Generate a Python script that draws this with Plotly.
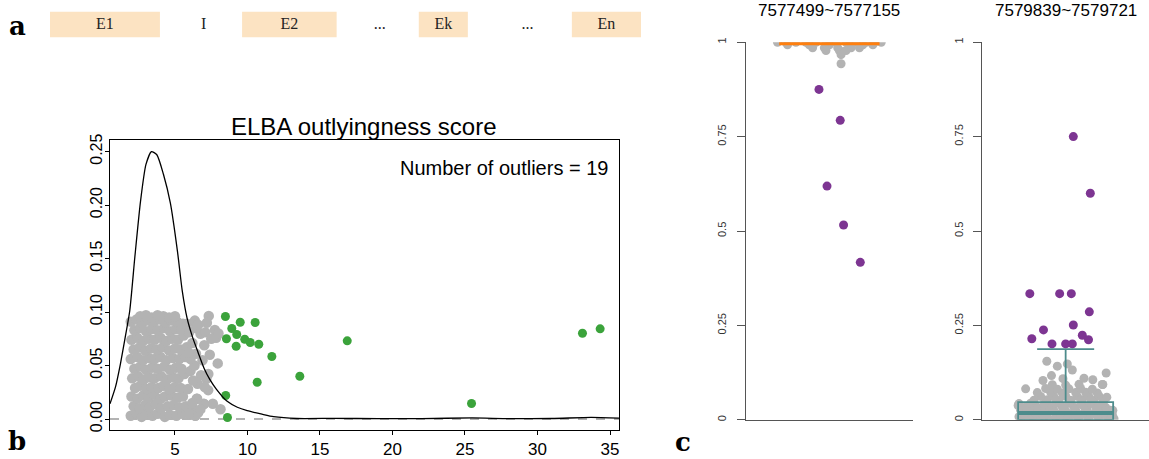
import plotly.graph_objects as go

W, H = 1149, 459

# ---------------- data ----------------
# panel a: gene structure (arbitrary coordinate units)
exon_labels = ["E1", "E2", "Ek", "En"]
exon_start = [0.0, 32.5, 62.4, 88.3]
exon_end = [18.6, 48.5, 70.7, 100.0]
gap_labels = ["I", "...", "..."]
gap_pos = [26.0, 55.8, 80.8]

# panel b: density curve of outlyingness score
dens_x = [0.52, 0.9, 1.24, 1.55, 1.88, 2.23, 2.62, 3.0, 3.38, 3.75, 4.2, 4.68, 5.17, 5.5,
          5.84, 6.2, 6.6, 6.99, 7.4, 7.85, 8.6, 9.3, 9.98, 11.0, 11.8, 13.4, 16.0, 19.0,
          22.0, 25.5, 28.0, 31.0, 33.7, 35.62]
dens_y = [0.0142, 0.030, 0.0516, 0.075, 0.101, 0.151, 0.203, 0.238, 0.250, 0.247, 0.229,
          0.202, 0.157, 0.120, 0.094, 0.077, 0.062, 0.048, 0.037, 0.028, 0.0165, 0.011,
          0.0078, 0.0045, 0.0022, 0.0005, 0.0006, 0.0004, 0.0004, 0.0010, 0.0004, 0.0005,
          0.0015, 0.0008]

# panel b: non-outlier scores (x) with vertical jitter (y)
gray_b_x = [
    1.95, 2.35, 2.7, 3.0, 3.45, 3.8, 4.3, 4.65, 5.1, 5.5, 6.05, 6.4, 6.6,
    2.15, 2.55, 2.95, 3.25, 3.65, 4.05, 4.5, 4.9, 5.3, 5.75, 6.3,
    2.0, 2.4, 2.8, 3.2, 3.55, 4.0, 4.3, 4.75, 5.2, 5.55, 6.5, 7.0,
    2.25, 2.6, 3.05, 3.4, 3.85, 4.2, 4.6, 5.0, 5.4, 5.9, 6.55,
    2.05, 2.45, 2.85, 3.2, 3.6, 4.05, 4.45, 4.85, 5.25, 5.65, 7.17, 7.3,
    2.2, 2.6, 3.0, 3.4, 3.8, 4.25, 4.65, 5.05, 5.45, 6.07, 6.35,
    1.95, 2.4, 2.8, 3.2, 3.6, 4.0, 4.4, 4.85, 5.3, 5.7, 6.07, 6.45, 7.95,
    2.15, 2.55, 2.95, 3.35, 3.75, 4.15, 4.6, 5.0, 5.4, 5.8, 6.2,
    2.0, 2.4, 2.8, 3.2, 3.6, 4.0, 4.4, 4.8, 5.2, 5.6, 7.02, 6.76,
    2.2, 2.6, 3.0, 3.4, 3.8, 4.25, 4.65, 5.05, 5.45, 5.98, 6.46, 7.10, 7.75, 7.84,
    1.95, 2.35, 2.75, 3.15, 3.55, 3.95, 4.35, 4.75, 5.15, 5.55, 5.84, 6.37, 7.33,
    2.6, 3.0, 3.4, 3.8, 4.2, 4.6, 5.0,
    7.61, 8.14, 6.99, 6.53, 7.29, 6.41, 6.8, 7.4,
    5.95, 6.2, 6.75, 7.05, 6.9, 7.5, 6.6, 7.2, 8.0, 6.25, 5.95,
]
gray_b_y = [
    0.003, 0.005, 0.002, 0.004, 0.003, 0.005, 0.002, 0.004, 0.003, 0.005, 0.004, 0.003, 0.006,
    0.012, 0.010, 0.013, 0.011, 0.014, 0.010, 0.012, 0.013, 0.011, 0.012, 0.009,
    0.021, 0.019, 0.022, 0.020, 0.023, 0.019, 0.021, 0.022, 0.020, 0.021, 0.019, 0.014,
    0.029, 0.031, 0.028, 0.030, 0.029, 0.031, 0.028, 0.030, 0.029, 0.028, 0.033,
    0.038, 0.040, 0.037, 0.039, 0.038, 0.040, 0.037, 0.039, 0.038, 0.042, 0.0376, 0.042,
    0.047, 0.049, 0.046, 0.048, 0.047, 0.049, 0.046, 0.048, 0.047, 0.045, 0.050,
    0.056, 0.058, 0.055, 0.057, 0.056, 0.058, 0.055, 0.057, 0.056, 0.058, 0.056, 0.061, 0.052,
    0.065, 0.067, 0.064, 0.066, 0.065, 0.067, 0.064, 0.066, 0.065, 0.067, 0.071,
    0.074, 0.076, 0.073, 0.075, 0.074, 0.076, 0.073, 0.075, 0.074, 0.078, 0.069, 0.0796,
    0.083, 0.085, 0.082, 0.084, 0.083, 0.085, 0.082, 0.084, 0.083, 0.081, 0.085, 0.081, 0.0833, 0.0759,
    0.091, 0.093, 0.090, 0.092, 0.091, 0.093, 0.090, 0.092, 0.091, 0.089, 0.089, 0.092, 0.0964,
    0.096, 0.097, 0.095, 0.097, 0.096, 0.095, 0.096,
    0.0142, 0.0092, 0.0142, 0.019, 0.027, 0.0033, 0.041, 0.060,
    0.005, 0.015, 0.009, 0.030, 0.055, 0.075, 0.088, 0.090, 0.080, 0.036, 0.062,
]

# panel b: the 19 outliers
green_x = [8.48, 9.50, 10.53, 8.92, 9.26, 8.55, 9.81, 10.19, 10.78, 9.22,
           16.88, 11.68, 13.61, 10.67, 8.50, 8.62, 25.45, 33.1, 34.32]
green_y = [0.0958, 0.0905, 0.0902, 0.0846, 0.0790, 0.0750, 0.0746, 0.0715, 0.0699, 0.0680,
           0.0731, 0.0584, 0.0400, 0.0344, 0.0220, 0.0014, 0.0145, 0.0802, 0.0843]
n_outliers = 19

# panel c, left site (7577499~7577155): jitter offset and value
left_gray_off = [-0.31, -0.26, -0.2, -0.14, -0.08, -0.02, 0.04, 0.1, 0.16, 0.22, 0.27, 0.31,
                 -0.25, -0.12, 0.0, 0.12, 0.2, 0.26, -0.1, -0.03, 0.05, 0.13, 0.18,
                 -0.02, 0.06, 0.1, 0.07, 0.07]
left_gray_val = [1.0, 1.0, 1.0, 1.0, 1.0, 1.0, 1.0, 1.0, 1.0, 1.0, 1.0, 1.0,
                 0.993, 0.993, 0.993, 0.993, 0.993, 0.993, 0.985, 0.985, 0.985, 0.985, 0.985,
                 0.978, 0.978, 0.978, 0.967, 0.943]
left_purple_off = [-0.062, 0.065, -0.014, 0.085, 0.185]
left_purple_val = [0.875, 0.793, 0.619, 0.516, 0.417]
left_box = dict(q1=1.0, median=1.0, q3=1.0, lo=1.0, hi=1.0)

# panel c, right site (7579839~7579721)
right_gray_off = [
    -0.27, -0.22, -0.16, -0.1, -0.04, 0.02, 0.08, 0.14, 0.2, 0.26, 0.29,
    -0.28, -0.2, -0.13, -0.06, 0.0, 0.07, 0.13, 0.19, 0.25,
    -0.25, -0.18, -0.11, -0.03, 0.04, 0.1, 0.17, 0.23, 0.28,
    -0.27, -0.2, -0.14, -0.07, 0.0, 0.06, 0.13, 0.2, 0.26,
    -0.24, -0.17, -0.1, -0.02, 0.05, 0.11, 0.18, 0.24,
    -0.28, -0.21, -0.13, -0.06, 0.02, 0.09, 0.15, 0.22,
    -0.19, -0.11, -0.04, 0.03, 0.1, 0.17, 0.23,
    -0.15, -0.07, 0.0, 0.07, 0.14, 0.2,
    -0.17, -0.09, -0.02, 0.06, 0.12, 0.19,
    -0.24, -0.12, -0.05, 0.02, 0.09, 0.16,
    -0.08, 0.0, 0.08, 0.22,
    -0.113, -0.05, 0.01, 0.04, 0.243, 0.11, 0.163, 0.223, -0.136, -0.085, -0.016,
    0.247, -0.285, 0.283,
]
right_gray_val = [
    0.002, 0.001, 0.003, 0.0, 0.002, 0.001, 0.003, 0.0, 0.002, 0.001, 0.003,
    0.008, 0.009, 0.007, 0.008, 0.009, 0.007, 0.008, 0.009, 0.007,
    0.016, 0.017, 0.015, 0.016, 0.017, 0.015, 0.016, 0.017, 0.015,
    0.025, 0.024, 0.026, 0.025, 0.024, 0.026, 0.025, 0.024, 0.026,
    0.034, 0.033, 0.035, 0.034, 0.033, 0.035, 0.034, 0.033,
    0.043, 0.044, 0.042, 0.043, 0.044, 0.042, 0.043, 0.044,
    0.052, 0.053, 0.051, 0.052, 0.053, 0.051, 0.052,
    0.062, 0.061, 0.063, 0.062, 0.061, 0.063,
    0.072, 0.073, 0.071, 0.072, 0.073, 0.071,
    0.082, 0.083, 0.081, 0.082, 0.083, 0.081,
    0.093, 0.092, 0.094, 0.0935,
    0.155, 0.142, 0.148, 0.132, 0.124, 0.110, 0.106, 0.0935, 0.104, 0.117, 0.109,
    0.060, 0.038, 0.025,
]
right_purple_off = [0.046, 0.148, -0.215, -0.036, 0.034, 0.142, 0.046, -0.133, 0.100,
                    -0.203, 0.137, -0.082, 0.0, 0.040]
right_purple_val = [0.750, 0.600, 0.334, 0.334, 0.334, 0.286, 0.251, 0.238, 0.224,
                    0.2145, 0.212, 0.201, 0.201, 0.201]
right_box = dict(q1=0.0, median=0.018, q3=0.047, lo=0.0, hi=0.187)

site_titles = ["7577499~7577155", "7579839~7579721"]

# ---------------- styles ----------------
SANS = "Liberation Sans, Arial, sans-serif"
SERIF = "Liberation Serif, Times New Roman, serif"
GRAY = "#B3B3B3"
GREEN = "#3BA33B"
PURPLE = "#7D3592"
ORANGE = "#FF7F0E"
TEAL = "#4D8C8C"
PEACH = "#FCE3C2"

# vertical placement helper (target pixel row -> paper fraction)
Y_OFF, Y_SPAN = 5.5, 449.0


def fx(p):
    return p / W


def fy(p):
    return 1 - (p - Y_OFF) / Y_SPAN


fig = go.Figure()

# ---- panel a ----
fig.add_trace(go.Bar(
    x=[e - s for s, e in zip(exon_start, exon_end)], base=exon_start,
    y=[0] * len(exon_start), orientation="h", width=1,
    marker=dict(color=PEACH, line=dict(width=0)),
    xaxis="x2", yaxis="y2", showlegend=False, hoverinfo="skip"))
fig.add_trace(go.Scatter(
    x=[(s + e) / 2 for s, e in zip(exon_start, exon_end)] + gap_pos,
    y=[0] * (len(exon_labels) + len(gap_labels)),
    text=exon_labels + gap_labels, mode="text",
    textfont=dict(family=SERIF, size=16, color="#222"),
    xaxis="x2", yaxis="y2", showlegend=False, hoverinfo="skip"))

# ---- panel b ----
fig.add_trace(go.Scatter(
    x=gray_b_x, y=gray_b_y, mode="markers",
    marker=dict(color=GRAY, size=10.5, line=dict(width=0)),
    xaxis="x", yaxis="y", showlegend=False, hoverinfo="skip"))
fig.add_trace(go.Scatter(
    x=green_x, y=green_y, mode="markers",
    marker=dict(color=GREEN, size=9, line=dict(width=0)),
    xaxis="x", yaxis="y", showlegend=False, hoverinfo="skip"))
fig.add_trace(go.Scatter(
    x=dens_x, y=dens_y, mode="lines",
    line=dict(color="black", width=1.3, shape="spline", smoothing=0.6),
    xaxis="x", yaxis="y", showlegend=False, hoverinfo="skip"))

# ---- panel c ----
fig.add_trace(go.Scatter(
    x=[1 + o for o in left_gray_off], y=left_gray_val, mode="markers",
    marker=dict(color=GRAY, size=9, line=dict(width=0)),
    xaxis="x3", yaxis="y3", showlegend=False, hoverinfo="skip"))
fig.add_trace(go.Scatter(
    x=[1 + o for o in left_purple_off], y=left_purple_val, mode="markers",
    marker=dict(color=PURPLE, size=9, line=dict(width=0)),
    xaxis="x3", yaxis="y3", showlegend=False, hoverinfo="skip"))
fig.add_trace(go.Box(
    x=[1], q1=[left_box["q1"]], median=[left_box["median"]], q3=[left_box["q3"]],
    lowerfence=[left_box["lo"]], upperfence=[left_box["hi"]],
    width=0.6, whiskerwidth=0.6, line=dict(color=ORANGE, width=6),
    fillcolor="rgba(0,0,0,0)", boxpoints=False,
    xaxis="x5", yaxis="y5", showlegend=False, hoverinfo="skip"))

fig.add_trace(go.Scatter(
    x=[1 + o for o in right_gray_off], y=right_gray_val, mode="markers",
    marker=dict(color=GRAY, size=9, line=dict(width=0)),
    xaxis="x4", yaxis="y4", showlegend=False, hoverinfo="skip"))
fig.add_trace(go.Scatter(
    x=[1 + o for o in right_purple_off], y=right_purple_val, mode="markers",
    marker=dict(color=PURPLE, size=9, line=dict(width=0)),
    xaxis="x4", yaxis="y4", showlegend=False, hoverinfo="skip"))
fig.add_trace(go.Box(
    x=[1], q1=[right_box["q1"]], median=[right_box["median"]], q3=[right_box["q3"]],
    lowerfence=[right_box["lo"]], upperfence=[right_box["hi"]],
    width=0.57, whiskerwidth=0.6, line=dict(color=TEAL, width=1.8),
    fillcolor="rgba(0,0,0,0)", boxpoints=False,
    xaxis="x6", yaxis="y6", showlegend=False, hoverinfo="skip"))
fig.add_trace(go.Box(
    x=[1], q1=[right_box["median"]], median=[right_box["median"]], q3=[right_box["median"]],
    lowerfence=[right_box["median"]], upperfence=[right_box["median"]],
    width=0.57, whiskerwidth=0.6, line=dict(color=TEAL, width=4),
    fillcolor="rgba(0,0,0,0)", boxpoints=False,
    xaxis="x6", yaxis="y6", showlegend=False, hoverinfo="skip"))

# ---------------- layout ----------------
b_dom_x = [fx(110), fx(619)]
b_dom_y = [fy(429), fy(139.3)]
cl_dom_x = [fx(745.7), fx(913)]
cr_dom_x = [fx(982.3), 1.0]
c_dom_y = [fy(419.3), fy(41.7)]

hidden = dict(visible=False, showgrid=False, zeroline=False, fixedrange=True)

c_yaxis = dict(
    domain=c_dom_y, range=[0, 1], showgrid=False, zeroline=False,
    showline=True, linecolor="#555", linewidth=1,
    ticks="outside", ticklen=8, tickcolor="#555", tickwidth=1,
    tickvals=[0, 0.25, 0.5, 0.75, 1], ticktext=["0", "0.25", "0.5", "0.75", "1"],
    tickangle=-90, tickfont=dict(family=SANS, size=11, color="#333"),
    ticklabelstandoff=6,
)
c_xaxis = dict(range=[0.5, 1.5], showgrid=False, zeroline=False, showline=True,
               linecolor="#555", linewidth=1, ticks="", showticklabels=False)

fig.update_layout(
    width=W, height=H, margin=dict(l=0, r=0, t=0, b=0),
    paper_bgcolor="white", plot_bgcolor="rgba(0,0,0,0)",
    showlegend=False, boxmode="overlay",
    xaxis=dict(
        domain=b_dom_x, range=[0.52, 35.62], showgrid=False, zeroline=False,
        showline=True, mirror=True, linecolor="black", linewidth=1,
        ticks="outside", ticklen=4, tickcolor="black",
        tickvals=[5, 10, 15, 20, 25, 30, 35],
        tickfont=dict(family=SANS, size=17, color="black"), anchor="y"),
    yaxis=dict(
        domain=b_dom_y, range=[-0.0098, 0.261], showgrid=False, zeroline=False,
        showline=True, mirror=True, linecolor="black", linewidth=1,
        ticks="outside", ticklen=4, tickcolor="black",
        tickvals=[0, 0.05, 0.1, 0.15, 0.2, 0.25],
        ticktext=["0.00", "0.05", "0.10", "0.15", "0.20", "0.25"],
        tickangle=-90, tickfont=dict(family=SANS, size=16, color="black"),
        ticklabelstandoff=-3, anchor="x"),
    xaxis2=dict(domain=[fx(50), fx(641)], range=[0, 100], anchor="y2", **hidden),
    yaxis2=dict(domain=[fy(37), fy(11)], range=[-0.5, 0.5], anchor="x2", **hidden),
    xaxis3=dict(domain=cl_dom_x, anchor="y3", **c_xaxis),
    yaxis3=dict(anchor="x3", **c_yaxis),
    xaxis4=dict(domain=cr_dom_x, anchor="y4", **c_xaxis),
    yaxis4=dict(anchor="x4", **c_yaxis),
    xaxis5=dict(overlaying="x3", range=[0.5, 1.5], anchor="y5", **hidden),
    yaxis5=dict(overlaying="y3", range=[0, 1], anchor="x5", **hidden),
    xaxis6=dict(overlaying="x4", range=[0.5, 1.5], anchor="y6", **hidden),
    yaxis6=dict(overlaying="y4", range=[0, 1], anchor="x6", **hidden),
)

# dashed zero line in panel b
fig.add_shape(type="line", xref="x domain", yref="y", x0=0, x1=1, y0=0, y1=0,
              line=dict(color="#9A9A9A", width=1.5, dash="dash"), layer="below")

annots = [
    dict(text="ELBA outlyingness score", x=fx(364.5), y=fy(126),
         font=dict(family=SANS, size=24, color="black"), xanchor="center"),
    dict(text=f"Number of outliers = {n_outliers}", x=fx(610), y=fy(167),
         font=dict(family=SANS, size=20, color="black"), xanchor="right"),
    dict(text=site_titles[0], x=fx(829.4), y=fy(10),
         font=dict(family=SANS, size=17, color="black"), xanchor="center"),
    dict(text=site_titles[1], x=fx(1065.8), y=fy(10),
         font=dict(family=SANS, size=17, color="black"), xanchor="center"),
    dict(text="<b>a</b>", x=fx(17), y=fy(26),
         font=dict(family="DejaVu Serif", size=26, color="black"), xanchor="center"),
    dict(text="<b>b</b>", x=fx(17), y=fy(440),
         font=dict(family="DejaVu Serif", size=26, color="black"), xanchor="center"),
    dict(text="<b>c</b>", x=fx(683), y=fy(441),
         font=dict(family="DejaVu Serif", size=26, color="black"), xanchor="center"),
]
for a in annots:
    fig.add_annotation(xref="paper", yref="paper", showarrow=False, yanchor="middle", **a)

fig.write_html("out.html")
